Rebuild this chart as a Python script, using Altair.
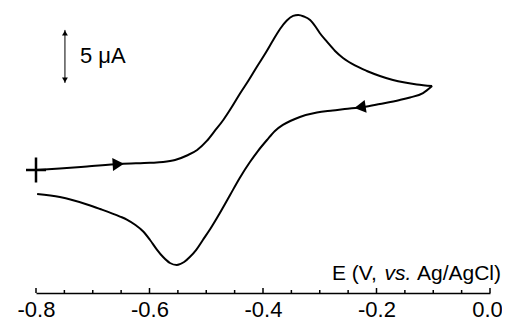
import altair as alt
import pandas as pd

# forward scan (-0.8 V -> -0.1 V), current in uA
fwd_E = [-0.800, -0.758, -0.710, -0.652, -0.599, -0.576, -0.555, -0.534, -0.516, -0.499,
         -0.485, -0.470, -0.455, -0.441, -0.425, -0.411, -0.396, -0.382, -0.370, -0.358,
         -0.347, -0.338, -0.328, -0.317, -0.307, -0.300, -0.287, -0.273, -0.259, -0.238,
         -0.217, -0.194, -0.171, -0.150, -0.129, -0.102]
fwd_I = [0.00, 0.14, 0.33, 0.57, 0.68, 0.75, 0.94, 1.37, 1.89, 2.74,
         3.68, 4.72, 5.94, 7.17, 8.49, 9.72, 10.99, 12.26, 13.30, 14.10,
         14.53, 14.62, 14.48, 14.15, 13.49, 12.92, 12.08, 11.23, 10.57, 9.86,
         9.34, 8.87, 8.49, 8.25, 8.07, 7.92]
# reverse scan (-0.1 V -> -0.8 V)
rev_E = [-0.102, -0.118, -0.141, -0.159, -0.194, -0.224, -0.256, -0.277, -0.305, -0.335,
         -0.352, -0.365, -0.379, -0.393, -0.409, -0.423, -0.441, -0.458, -0.476, -0.493,
         -0.506, -0.518, -0.529, -0.539, -0.552, -0.564, -0.576, -0.587, -0.599, -0.611,
         -0.626, -0.640, -0.652, -0.687, -0.710, -0.758, -0.798]
rev_I = [7.92, 7.26, 6.84, 6.60, 6.23, 5.94, 5.75, 5.61, 5.42, 5.00,
         4.62, 4.25, 3.68, 2.83, 1.79, 0.75, -0.75, -2.36, -4.06, -5.57,
         -6.60, -7.55, -8.21, -8.68, -8.96, -8.77, -8.21, -7.50, -6.60, -5.80,
         -5.14, -4.67, -4.39, -3.68, -3.25, -2.55, -2.26]

major_ticks = [-0.8, -0.6, -0.4, -0.2, 0.0]
minor_ticks = [-0.75, -0.7, -0.65, -0.55, -0.5, -0.45, -0.35, -0.3, -0.25, -0.15, -0.1, -0.05]

start_E = [-0.800]
start_I = [0.00]
fwd_arrow_E = [-0.655]
fwd_arrow_I = [0.55]
rev_arrow_E = [-0.229]
rev_arrow_I = [5.92]
bar_E = [-0.749]
bar_I_low = [8.21]
bar_I_high = [13.21]  # 5 uA scale bar

scale_text = "5 μA"
title_parts = ["E (V,", "vs.", "Ag/AgCl)"]

FONT = "Liberation Sans"
x_scale = alt.Scale(domain=[-0.8, 0.0], nice=False, zero=False)
y_scale = alt.Scale(domain=[-11.60, 15.09], nice=False, zero=False)
x_axis = alt.Axis(
    values=major_ticks, title=None, grid=False, ticks=False, tickSize=0,
    labelPadding=6, labelFontSize=22, labelFont=FONT, labelColor="black",
    labelExpr="replace(format(datum.value, '.1f'), '\u2212', '-')",
    labelOffset={"condition": {"test": "datum.value == 0", "value": -3}, "value": 0},
    domainColor="black", domainWidth=1.5, labelFlush=False)
X = alt.X("E:Q", scale=x_scale, axis=x_axis)


def Y(field):
    return alt.Y(field, type="quantitative", scale=y_scale, axis=None)


curve_df = pd.DataFrame({
    "E": fwd_E + rev_E,
    "I": fwd_I + rev_I,
    "branch": ["forward"] * len(fwd_E) + ["reverse"] * len(rev_E),
})

line = alt.Chart(curve_df).mark_line(color="black", strokeWidth=2, interpolate="monotone").encode(
    x=X, y=Y("I"), detail="branch:N")

major = alt.Chart(pd.DataFrame({"E": major_ticks})).mark_rule(color="black", strokeWidth=1.5).encode(
    x=X, y=alt.value(278), y2=alt.value(283))
minor = alt.Chart(pd.DataFrame({"E": minor_ticks})).mark_rule(color="black", strokeWidth=1.5).encode(
    x=X, y=alt.value(280), y2=alt.value(283))

cross = alt.Chart(pd.DataFrame({"E": start_E, "I": start_I})).mark_point(
    shape="M-0.8,0H0.8M0,-1V1", filled=False, strokeWidth=2.5, size=625, color="black", opacity=1
).encode(x=X, y=Y("I"))

arrow_f = alt.Chart(pd.DataFrame({"E": fwd_arrow_E, "I": fwd_arrow_I})).mark_point(
    shape="triangle-right", filled=True, size=170, color="black", opacity=1, angle=356.6
).encode(x=X, y=Y("I"))

arrow_r = alt.Chart(pd.DataFrame({"E": rev_arrow_E, "I": rev_arrow_I})).mark_point(
    shape="triangle-left", filled=True, size=170, color="black", opacity=1, angle=351.5
).encode(x=X, y=Y("I"))

bar_df = pd.DataFrame({"E": bar_E, "lo": bar_I_low, "hi": bar_I_high})
bar = alt.Chart(bar_df).mark_rule(color="black", strokeWidth=1).encode(
    x=X, y=Y("lo"), y2="hi:Q")
bar_top = alt.Chart(bar_df).mark_point(
    shape="triangle-up", filled=True, size=34, color="black", opacity=1, yOffset=3
).encode(x=X, y=Y("hi"))
bar_bot = alt.Chart(bar_df).mark_point(
    shape="triangle-down", filled=True, size=34, color="black", opacity=1, yOffset=-3
).encode(x=X, y=Y("lo"))

bar_label = alt.Chart(pd.DataFrame({"t": [scale_text]})).mark_text(
    font=FONT, fontSize=22, color="black", align="left", baseline="alphabetic"
).encode(x=alt.value(44), y=alt.value(53), text="t:N")

t1 = alt.Chart(pd.DataFrame({"t": [title_parts[0]]})).mark_text(
    font=FONT, fontSize=21, color="black", align="left", baseline="alphabetic"
).encode(x=alt.value(296), y=alt.value(270), text="t:N")
t2 = alt.Chart(pd.DataFrame({"t": [title_parts[1]]})).mark_text(
    font=FONT, fontSize=21, fontStyle="italic", color="black", align="left", baseline="alphabetic"
).encode(x=alt.value(348.5), y=alt.value(270), text="t:N")
t3 = alt.Chart(pd.DataFrame({"t": [title_parts[2]]})).mark_text(
    font=FONT, fontSize=21, color="black", align="left", baseline="alphabetic"
).encode(x=alt.value(381), y=alt.value(270), text="t:N")

chart = alt.layer(line, major, minor, cross, arrow_f, arrow_r, bar, bar_top, bar_bot,
                  bar_label, t1, t2, t3).properties(
    width=454, height=283,
    autosize=alt.AutoSizeParams(type="none"),
    padding={"left": 28, "top": 2, "right": 12, "bottom": 24},
    background="white",
).configure_view(stroke=None)

chart.save("out.html", embed_options={"renderer": "svg", "actions": False})
